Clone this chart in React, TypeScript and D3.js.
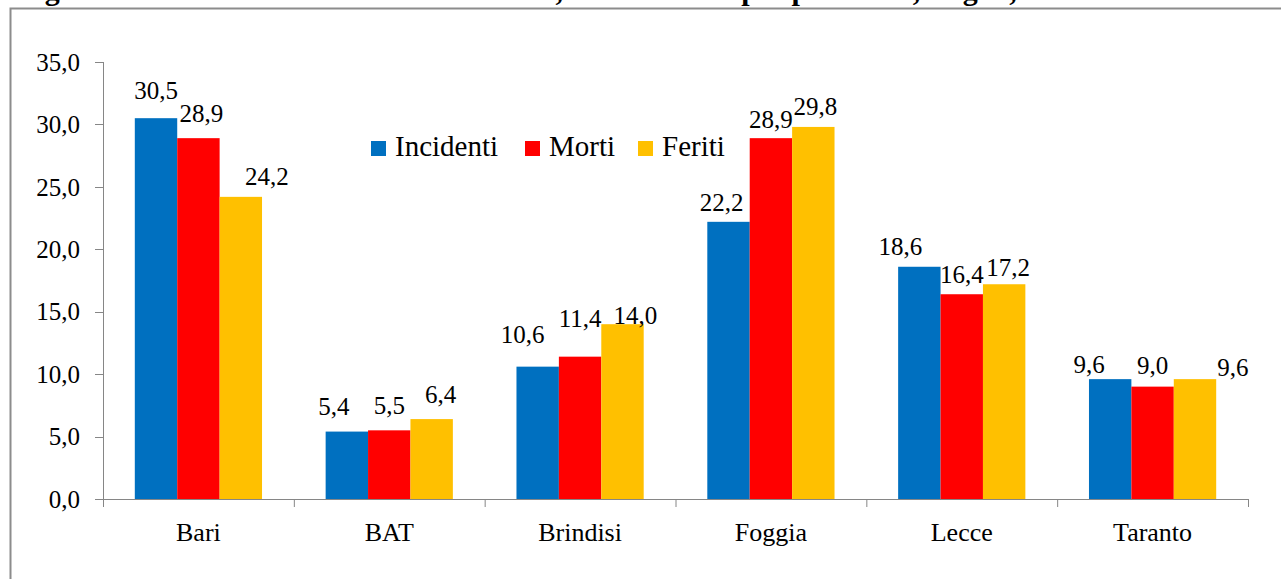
import React from "react";
import * as d3 from "d3";

const provinces = ["Bari", "BAT", "Brindisi", "Foggia", "Lecce", "Taranto"];
const seriesNames = ["Incidenti", "Morti", "Feriti"];
const incidenti = [30.5, 5.4, 10.6, 22.2, 18.6, 9.6];
const morti = [28.9, 5.5, 11.4, 28.9, 16.4, 9.0];
const feriti = [24.2, 6.4, 14.0, 29.8, 17.2, 9.6];
const yTicks = [0, 5, 10, 15, 20, 25, 30, 35];
const titleText = "Figura 4 – Distribuzione incidenti stradali, morti e feriti per provincia, Puglia, 2019";

// layout / style (not data)
const colors = ["#0070C0", "#FF0000", "#FFC000"];
const labelNudge: [number, number][][] = [
  [[0, -3], [3, 0], [26, 4]],
  [[-13, -1], [0, 0], [9, 0]],
  [[-15, -8], [0, -14], [13, 16]],
  [[-7, 5], [0, 6], [2, 4]],
  [[-19, 4], [0, 5], [4, 8]],
  [[-21, 10], [0, 3], [38, 13]],
];
const legendX = [371, 525, 638];

const W = 1281;
const H = 579;
const left = 103;
const right = 1248;
const top = 62;
const bottom = 499;
const FONT = "'Liberation Serif', 'Times New Roman', serif";
const AXIS = "#868686";

const fmt = (v: number) => d3.format(".1f")(v).replace(".", ",");

export default function App() {
  const series = [incidenti, morti, feriti];
  const x0 = d3.scaleBand<string>().domain(provinces).range([left, right]).paddingInner(0).paddingOuter(0);
  const inner = x0.bandwidth() * (2 / 3);
  const x1 = d3
    .scaleBand<string>()
    .domain(seriesNames)
    .range([0, inner])
    .padding(0);
  const y = d3.scaleLinear().domain([0, 35]).range([bottom, top]);
  const groupOffset = (x0.bandwidth() - inner) / 2;

  const boundaries = provinces.map((p) => x0(p) as number).concat([right]);

  return (
    <div style={{ position: "fixed", left: 0, top: 0, width: W, height: H, background: "#fff" }}>
      <svg width={W} height={H} style={{ display: "block" }}>
        <rect x={0} y={0} width={W} height={H} fill="#fff" />
        {/* cut-off title */}
        <text x={18} y={0} fontFamily={FONT} fontWeight="bold" fontSize={30} fill="#000">
          {titleText}
        </text>
        {/* chart frame */}
        <path d={`M10.5,${H + 5} V8.5 H${W + 5}`} fill="none" stroke="#8c8c8c" strokeWidth={2} />

        {/* bars */}
        {provinces.map((p, i) => (
          <g key={p} transform={`translate(${(x0(p) as number) + groupOffset},0)`}>
            {seriesNames.map((s, j) => (
              <rect
                key={s}
                x={x1(s) as number}
                y={y(series[j][i])}
                width={x1.bandwidth()}
                height={bottom - y(series[j][i])}
                fill={colors[j]}
              />
            ))}
          </g>
        ))}

        {/* y axis */}
        <line x1={left + 0.5} x2={left + 0.5} y1={top} y2={bottom + 8} stroke={AXIS} strokeWidth={1} />
        {yTicks.map((t) => (
          <g key={t}>
            <line x1={left - 8} x2={left} y1={Math.round(y(t)) + 0.5} y2={Math.round(y(t)) + 0.5} stroke={AXIS} />
            <text
              x={80}
              y={y(t)}
              dy="0.35em"
              textAnchor="end"
              fontFamily={FONT}
              fontSize={25}
              fill="#000"
            >
              {fmt(t)}
            </text>
          </g>
        ))}

        {/* x axis */}
        <line x1={left} x2={right} y1={bottom + 0.5} y2={bottom + 0.5} stroke={AXIS} />
        {boundaries.map((b, i) => (
          <line key={i} x1={b + 0.5} x2={b + 0.5} y1={bottom} y2={bottom + 8} stroke={AXIS} />
        ))}
        {provinces.map((p) => (
          <text
            key={p}
            x={(x0(p) as number) + x0.bandwidth() / 2}
            y={541}
            textAnchor="middle"
            fontFamily={FONT}
            fontSize={26}
            fill="#000"
          >
            {p}
          </text>
        ))}

        {/* data labels */}
        {provinces.map((p, i) =>
          seriesNames.map((s, j) => {
            const v = series[j][i];
            const cx = (x0(p) as number) + groupOffset + (x1(s) as number) + x1.bandwidth() / 2;
            const [dx, dy] = labelNudge[i][j];
            return (
              <text
                key={p + s}
                x={cx + dx}
                y={y(v) - 16 + dy}
                textAnchor="middle"
                fontFamily={FONT}
                fontSize={25}
                fill="#000"
              >
                {fmt(v)}
              </text>
            );
          })
        )}

        {/* legend */}
        {seriesNames.map((s, j) => (
          <g key={s}>
            <rect x={legendX[j]} y={141} width={15} height={15} fill={colors[j]} />
            <text x={legendX[j] + 24} y={156} fontFamily={FONT} fontSize={29} fill="#000">
              {s}
            </text>
          </g>
        ))}
      </svg>
    </div>
  );
}
